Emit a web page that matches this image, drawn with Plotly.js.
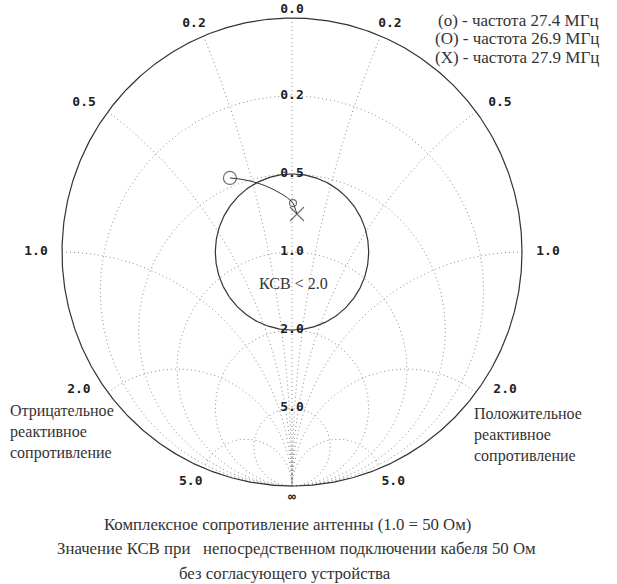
<!DOCTYPE html>
<html><head><meta charset="utf-8">
<script src="https://cdn.plot.ly/plotly-3.0.1.min.js"></script>
<style>html,body{margin:0;padding:0;background:#fff;}#chart{width:617px;height:584px;}</style>
</head><body><div id="chart"></div>
<script>
// ---- data ----
const resistanceCircles = [0.2, 0.5, 1.0, 2.0, 5.0];
const reactanceArcs = [0.2, 0.5, 1.0, 2.0, 5.0];
const resistanceLabels = ['0.2', '0.5', '1.0', '2.0', '5.0'];
const reactanceLabels = ['0.2', '0.5', '1.0', '2.0', '5.0'];
const vswrLimit = 2.0;
// impedance locus (normalised, 1.0 = 50 Ohm), 26.9 -> 27.9 MHz
const locusR = [0.458, 0.481, 0.505, 0.531, 0.561, 0.588, 0.613, 0.636, 0.654, 0.683, 0.720];
const locusX = [-0.299, -0.255, -0.211, -0.165, -0.117, -0.077, -0.040, -0.012, 0.006, 0.018, 0.032];
const freqMHz = [26.9, 27.4, 27.9];
const freqR = [0.458, 0.654, 0.720];
const freqX = [-0.299, 0.006, 0.032];
const legendLines = ['(о) - частота 27.4 МГц', '(О) - частота 26.9 МГц', '(Х) - частота 27.9 МГц'];
const captionLines = ['Комплексное сопротивление антенны (1.0 = 50 Ом)',
  'Значение КСВ при &nbsp; непосредственном подключении кабеля 50 Ом',
  'без согласующего устройства'];

// ---- Smith mapping (rotated: 0 at top, ∞ at bottom, +jX on the right) ----
function gamma(r, x) {
  const dr = r + 1, den = dr * dr + x * x;
  const re = (r * r + x * x - 1) / den;
  const im = 2 * x / den;
  return [im, -re];
}
const W = 617, H = 584, CX = 292, CY = 252, RX = 230, RY = 234;
// label placement around the rim (radius factor, angular shift toward the horizontal, degrees)
const rimRadius = [1.063, 1.106, 1.113, 1.098, 1.077];
const rimShift = [1.0, 1.7, 0, 4.4, 1.5];
const captionCenters = [287, 296, 285];
const traces = [];
const gridLine = {color: '#8c8c8c', width: 1, dash: '1px,3px'};

// resistance circles
resistanceCircles.forEach(r => {
  const xs = [], ys = [];
  const c = r / (1 + r), rad = 1 / (1 + r);
  for (let i = 0; i <= 360; i++) {
    const a = i * Math.PI / 180;
    const re = c + rad * Math.cos(a), im = rad * Math.sin(a);
    xs.push(im); ys.push(-re);
  }
  traces.push({type: 'scatter', mode: 'lines', x: xs, y: ys, line: gridLine, hoverinfo: 'skip'});
});
// reactance arcs (both signs) and the real axis
[0].concat(reactanceArcs, reactanceArcs.map(v => -v)).forEach(x => {
  const xs = [], ys = [];
  for (let i = 0; i <= 600; i++) {
    const t = i / 600 * 0.99995;
    const r = t / (1 - t);
    const p = gamma(r, x);
    xs.push(p[0]); ys.push(p[1]);
  }
  xs.push(0); ys.push(-1);
  traces.push({type: 'scatter', mode: 'lines', x: xs, y: ys, line: gridLine, hoverinfo: 'skip'});
});
// outer boundary r = 0
(function () {
  const xs = [], ys = [];
  for (let i = 0; i <= 720; i++) {
    const a = i * Math.PI / 360;
    xs.push(Math.cos(a)); ys.push(Math.sin(a));
  }
  traces.push({type: 'scatter', mode: 'lines', x: xs, y: ys, line: {color: '#333', width: 1.2}, hoverinfo: 'skip'});
})();
// VSWR circle
(function () {
  const g = (vswrLimit - 1) / (vswrLimit + 1);
  const xs = [], ys = [];
  for (let i = 0; i <= 360; i++) {
    const a = i * Math.PI / 180;
    xs.push(g * Math.cos(a)); ys.push(g * Math.sin(a));
  }
  traces.push({type: 'scatter', mode: 'lines', x: xs, y: ys, line: {color: '#333', width: 1.2}, hoverinfo: 'skip'});
})();

const monoFont = {family: 'DejaVu Sans Mono', size: 13, color: '#222', weight: 'bold'};
// resistance labels (on the vertical axis)
traces.push({type: 'scatter', mode: 'text',
  x: resistanceCircles.map(() => 0),
  y: resistanceCircles.map(r => (1 - r) / (1 + r)),
  text: resistanceLabels, textfont: monoFont, hoverinfo: 'skip'});
// reactance labels around the rim
const lx = [], ly = [], lt = [];
reactanceArcs.forEach((x, i) => {
  [1, -1].forEach(s => {
    const p = gamma(0, s * x);
    let ang = Math.atan2(p[1], Math.abs(p[0]));
    ang -= Math.sign(p[1]) * rimShift[i] * Math.PI / 180;
    lx.push(s * rimRadius[i] * Math.cos(ang)); ly.push(rimRadius[i] * Math.sin(ang)); lt.push(reactanceLabels[i]);
  });
});
lx.push(0, 0); ly.push(1.034, -1.05); lt.push('0.0', '∞');
traces.push({type: 'scatter', mode: 'text', x: lx, y: ly, text: lt, textfont: monoFont, hoverinfo: 'skip'});

// impedance locus
const locP = locusR.map((r, i) => gamma(r, locusX[i]));
traces.push({type: 'scatter', mode: 'lines', x: locP.map(p => p[0]), y: locP.map(p => p[1]),
  line: {color: '#333', width: 1, shape: 'spline'}, hoverinfo: 'skip'});
const fP = freqR.map((r, i) => gamma(r, freqX[i]));
traces.push({type: 'scatter', mode: 'markers', x: fP.map(p => p[0]), y: fP.map(p => p[1]),
  marker: {symbol: ['circle-open', 'circle-open', 'x-thin-open'], size: [13, 7, 14],
    color: '#333', line: {color: '#333', width: 1.2}}, hoverinfo: 'skip'});

// ---- layout ----
const serif = {family: 'Liberation Serif', size: 16, color: '#333'};
const legendFont = {family: 'Liberation Serif', size: 17, color: '#333'};
const captionFont = {family: 'Liberation Serif', size: 16.8, color: '#333'};
const ann = [];
legendLines.forEach((t, i) => ann.push({xref: 'paper', yref: 'paper', x: 601 / W, y: 1 - (20 + 19 * i) / H,
  xanchor: 'right', yanchor: 'middle', text: t, showarrow: false, font: legendFont}));
captionLines.forEach((t, i) => ann.push({xref: 'paper', yref: 'paper', x: captionCenters[i] / W, y: 1 - (524 + 24.5 * i) / H,
  xanchor: 'center', yanchor: 'middle', text: t, showarrow: false, font: captionFont}));
ann.push({xref: 'paper', yref: 'paper', x: 8 / W, y: 1 - 432 / H, xanchor: 'left', yanchor: 'middle', align: 'left',
  text: 'Отрицательное<br>реактивное<br>сопротивление', showarrow: false, font: serif});
ann.push({xref: 'paper', yref: 'paper', x: 472 / W, y: 1 - 435 / H, xanchor: 'left', yanchor: 'middle', align: 'left',
  text: 'Положительное<br>реактивное<br>сопротивление', showarrow: false, font: serif});
ann.push({x: 0.005, y: -0.133, xanchor: 'center', yanchor: 'middle', text: 'КСВ < 2.0', showarrow: false, font: serif});

const layout = {
  width: W, height: H, margin: {l: 0, r: 0, t: 0, b: 0},
  paper_bgcolor: '#fff', plot_bgcolor: '#fff', showlegend: false,
  xaxis: {range: [-CX / RX, (W - CX) / RX], visible: false, fixedrange: true},
  yaxis: {range: [-(H - CY) / RY, CY / RY], visible: false, fixedrange: true},
  annotations: ann
};
Plotly.newPlot('chart', traces, layout, {staticPlot: true});
</script></body></html>
